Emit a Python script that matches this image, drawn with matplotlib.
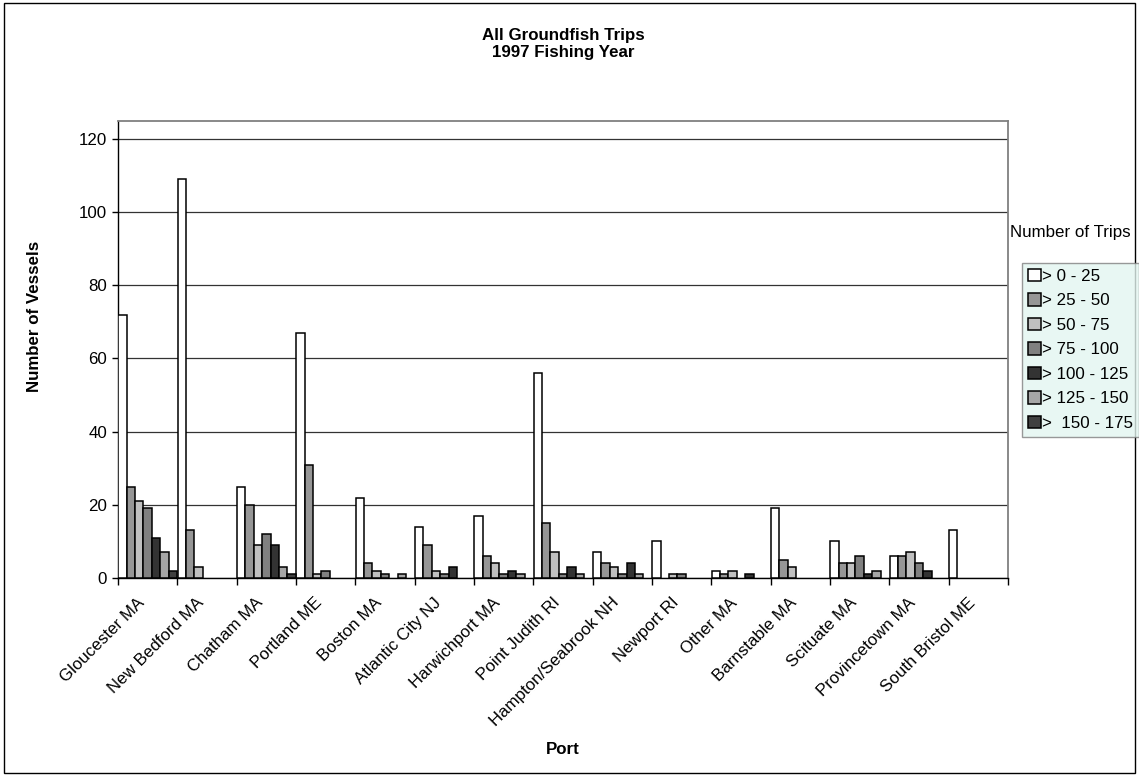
import numpy as np
import matplotlib
matplotlib.use("Agg")
import matplotlib.pyplot as plt
from matplotlib.patches import Rectangle
from matplotlib.transforms import ScaledTranslation

plt.rcParams['font.family'] = ['Liberation Sans', 'DejaVu Sans']

ports = ["Gloucester MA", "New Bedford MA", "Chatham MA", "Portland ME", "Boston MA",
         "Atlantic City NJ", "Harwichport MA", "Point Judith RI", "Hampton/Seabrook NH",
         "Newport RI", "Other MA", "Barnstable MA", "Scituate MA", "Provincetown MA",
         "South Bristol ME"]

trip_bins = ["> 0 - 25", "> 25 - 50", "> 50 - 75", "> 75 - 100", "> 100 - 125",
             "> 125 - 150", ">  150 - 175"]

trips_0_25 = [72, 109, 25, 67, 22, 14, 17, 56, 7, 10, 2, 19, 10, 6, 13]
trips_25_50 = [25, 13, 20, 31, 4, 9, 6, 15, 4, 0, 1, 5, 4, 6, 0]
trips_50_75 = [21, 3, 9, 1, 2, 2, 4, 7, 3, 1, 2, 3, 4, 7, 0]
trips_75_100 = [19, 0, 12, 2, 1, 1, 1, 1, 1, 1, 0, 0, 6, 4, 0]
trips_100_125 = [11, 0, 9, 0, 0, 3, 2, 3, 4, 0, 1, 0, 1, 2, 0]
trips_125_150 = [7, 0, 3, 0, 1, 0, 1, 1, 1, 0, 0, 0, 2, 0, 0]
trips_150_175 = [2, 0, 1, 0, 0, 0, 0, 0, 0, 0, 0, 0, 0, 0, 0]

series = [trips_0_25, trips_25_50, trips_50_75, trips_75_100,
          trips_100_125, trips_125_150, trips_150_175]
colors = ['#ffffff', '#969696', '#c0c0c0', '#808080', '#333333', '#a6a6a6', '#404040']

FS = 12.2

fig = plt.figure(figsize=(11.39, 7.76), dpi=100)
ax = fig.add_axes([118 / 1139, 1 - 578 / 776, 890 / 1139, (578 - 120.7) / 776])

x = np.arange(len(ports))
w = 0.1405
for i, (vals, col) in enumerate(zip(series, colors)):
    vals = np.asarray(vals, dtype=float)
    keep = vals > 0
    ax.bar(x[keep] + (i - 3) * w, vals[keep], width=w, color=col,
           edgecolor='black', linewidth=1.1, zorder=3, label=trip_bins[i])

ax.set_xlim(-0.5, len(ports) - 0.5)
ax.set_ylim(0, 125)
ax.set_yticks(np.arange(0, 121, 20))
ax.yaxis.grid(True, color='#333333', linewidth=0.9, zorder=1)
ax.set_axisbelow(True)

for s in ['top', 'right']:
    ax.spines[s].set_color('#808080')
    ax.spines[s].set_linewidth(1.3)
for s in ['left', 'bottom']:
    ax.spines[s].set_color('black')
    ax.spines[s].set_linewidth(1.0)

ax.tick_params(axis='y', direction='out', length=4, width=1.0, labelsize=FS, pad=4)
ax.set_xticks(x)
ax.set_xticklabels(ports, rotation=45, ha='right', va='top', rotation_mode='anchor',
                   fontsize=FS)
ax.tick_params(axis='x', which='major', length=0, pad=8)
ax.set_xticks(np.arange(-0.5, len(ports)), minor=True)
ax.tick_params(axis='x', which='minor', direction='out', length=5, width=1.0)
shift = ScaledTranslation(-11 / 100, -6 / 100, fig.dpi_scale_trans)
for lbl in ax.get_xticklabels():
    lbl.set_transform(lbl.get_transform() + shift)

fig.text(35 / 1139, 1 - 316 / 776, "Number of Vessels", fontsize=FS, fontweight='bold',
         rotation=90, ha='center', va='center')
fig.text(563 / 1139, 1 - 750 / 776, "Port", fontsize=FS, fontweight='bold',
         ha='center', va='center')

fig.text(563 / 1139, 1 - 44 / 776, "All Groundfish Trips\n1997 Fishing Year",
         fontsize=FS, fontweight='bold', ha='center', va='center', linespacing=1.15)

fig.text(1010 / 1139, 1 - 232 / 776, "Number of Trips", fontsize=FS,
         ha='left', va='center')

leg = fig.legend(loc='upper left', bbox_to_anchor=(1022 / 1139, 1 - 263 / 776),
                 frameon=True, fancybox=False, fontsize=FS, handlelength=0.75,
                 handleheight=0.75, handletextpad=0.1, labelspacing=0.55,
                 borderpad=0.35, borderaxespad=0)
leg.get_frame().set_facecolor('#e3f5f0')
leg.get_frame().set_edgecolor('#808080')
leg.get_frame().set_linewidth(1.0)

fig.patches.append(Rectangle((4 / 1139, 3 / 776), 1131 / 1139, 770 / 776,
                             transform=fig.transFigure, fill=False,
                             edgecolor='black', linewidth=1.0))

fig.savefig("out.png", dpi=100)
